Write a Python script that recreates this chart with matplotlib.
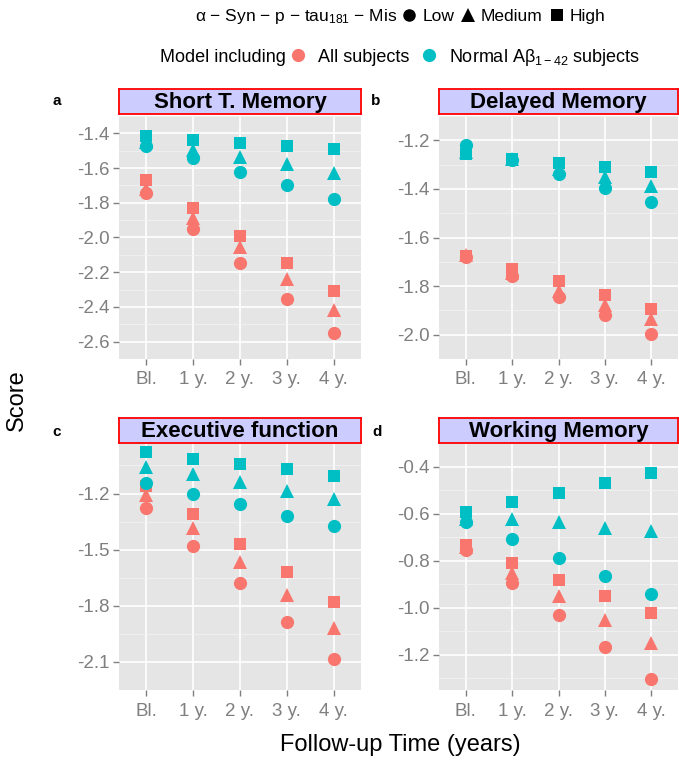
import matplotlib
matplotlib.use("Agg")
import matplotlib.pyplot as plt
from matplotlib.lines import Line2D

plt.rcParams['font.family'] = ['Liberation Sans', 'DejaVu Sans']
plt.rcParams['mathtext.fontset'] = 'custom'
plt.rcParams['mathtext.rm'] = 'Liberation Sans'
plt.rcParams['mathtext.it'] = 'Liberation Sans:italic'

times = ["Bl.", "1 y.", "2 y.", "3 y.", "4 y."]
levels = ["Low", "Medium", "High"]

# rows: Low, Medium, High
stm_all = [[-1.745, -1.95, -2.145, -2.353, -2.55],
           [-1.72, -1.885, -2.057, -2.237, -2.42],
           [-1.67, -1.83, -1.99, -2.145, -2.308]]
stm_norm = [[-1.47, -1.54, -1.62, -1.70, -1.78],
            [-1.45, -1.495, -1.535, -1.575, -1.63],
            [-1.415, -1.44, -1.455, -1.475, -1.49]]
dm_all = [[-1.68, -1.76, -1.843, -1.917, -1.998],
          [-1.672, -1.745, -1.82, -1.877, -1.937],
          [-1.676, -1.728, -1.78, -1.837, -1.895]]
dm_norm = [[-1.22, -1.28, -1.338, -1.395, -1.452],
           [-1.25, -1.278, -1.32, -1.35, -1.39],
           [-1.255, -1.275, -1.292, -1.31, -1.33]]
ef_all = [[-1.277, -1.478, -1.68, -1.887, -2.084],
          [-1.208, -1.385, -1.565, -1.743, -1.92],
          [-1.159, -1.311, -1.47, -1.622, -1.781]]
ef_norm = [[-1.143, -1.2, -1.257, -1.318, -1.372],
           [-1.058, -1.093, -1.139, -1.184, -1.229],
           [-0.979, -1.015, -1.041, -1.071, -1.105]]
wm_all = [[-0.754, -0.895, -1.032, -1.169, -1.304],
          [-0.741, -0.852, -0.952, -1.054, -1.152],
          [-0.732, -0.81, -0.882, -0.952, -1.022]]
wm_norm = [[-0.637, -0.709, -0.787, -0.865, -0.943],
           [-0.624, -0.624, -0.637, -0.661, -0.676],
           [-0.592, -0.552, -0.511, -0.468, -0.426]]

panels = [
    ("a", "Short T. Memory", stm_all, stm_norm, (-2.62, -1.385),
     [-2.6, -2.4, -2.2, -2.0, -1.8, -1.6, -1.4], ["-2.6", "-2.4", "-2.2", "-2.0", "-1.8", "-1.6", "-1.4"]),
    ("b", "Delayed Memory", dm_all, dm_norm, (-2.03, -1.19),
     [-2.0, -1.8, -1.6, -1.4, -1.2], ["-2.0", "-1.8", "-1.6", "-1.4", "-1.2"]),
    ("c", "Executive function", ef_all, ef_norm, (-2.14, -0.93),
     [-2.1, -1.8, -1.5, -1.2], ["-2.1", "-1.8", "-1.5", "-1.2"]),
    ("d", "Working Memory", wm_all, wm_norm, (-1.35, -0.383),
     [-1.2, -1.0, -0.8, -0.6, -0.4], ["-1.2", "-1.0", "-0.8", "-0.6", "-0.4"]),
]

RED = "#F8766D"
CYAN = "#00BFC4"
markers = {"Low": ("o", 9.5), "Medium": ("^", 10), "High": ("s", 8.5)}

W, H = 679, 762
fig = plt.figure(figsize=(W / 100, H / 100), dpi=100)


def rect(x0, y0, x1, y1):
    return [x0 / W, 1 - y1 / H, (x1 - x0) / W, (y1 - y0) / H]


boxes = [(119, 116, 361, 359), (439, 116, 678, 359),
         (119, 443, 361, 690), (439, 443, 678, 690)]
strips = [(119, 89, 361, 114), (439, 89, 678, 114),
          (119, 418, 361, 443), (439, 418, 678, 443)]
letters = [(57, 101), (376, 101), (57, 432), (377, 432)]

for (letter, title, d_all, d_norm, ylim, yt, ytl), box, sb, lp in zip(panels, boxes, strips, letters):
    ax = fig.add_axes(rect(*box))
    ax.set_facecolor("#E5E5E5")
    for s in ax.spines.values():
        s.set_visible(False)
    x = list(range(len(times)))
    ax.set_xlim(-0.58, 4.58)
    ax.set_ylim(*ylim)
    ax.set_xticks(x)
    ax.set_xticklabels(times)
    ax.set_yticks(yt)
    ax.set_yticklabels(ytl)
    step = yt[1] - yt[0]
    minors = [v + step / 2 for v in yt[:-1]] + [yt[0] - step / 2, yt[-1] + step / 2]
    ax.set_yticks(minors, minor=True)
    ax.tick_params(axis="y", which="minor", length=0)
    ax.tick_params(which="major", length=4, color="#7F7F7F", width=1,
                   labelsize=13.5, labelcolor="#7F7F7F")
    ax.tick_params(axis="x", pad=5)
    ax.tick_params(axis="y", pad=3)
    ax.grid(True, which="major", color="white", linewidth=1.2)
    ax.grid(True, which="minor", axis="y", color="#F2F2F2", linewidth=0.6)
    ax.set_axisbelow(True)
    for vals, col in ((d_all, RED), (d_norm, CYAN)):
        for lev, row in zip(levels, vals):
            m, ms = markers[lev]
            ax.plot(x, row, linestyle="none", marker=m, markersize=ms,
                    color=col, markeredgewidth=0)

    sax = fig.add_axes(rect(*sb))
    sax.set_facecolor("#CCCCFF")
    sax.set_xticks([])
    sax.set_yticks([])
    for s in sax.spines.values():
        s.set_color("#FF0000")
        s.set_linewidth(1.3)
    sax.text(0.5, 0.45, title, ha="center", va="center", fontsize=16,
             fontweight="bold", transform=sax.transAxes)

    fig.text(lp[0] / W, 1 - lp[1] / H, letter, fontsize=11, fontweight="bold",
             ha="center", va="center")

fig.text(400 / W, 1 - 745 / H, "Follow-up Time (years)", fontsize=17,
         ha="center", va="center")
fig.text(17 / W, 1 - 400 / H, "Score", fontsize=17, rotation=90,
         ha="center", va="center")

renderer = fig.canvas.get_renderer()

# legend 1: shapes
t1 = fig.text(195 / W, 1 - 16 / H, "α − Syn − p − tau$_{181}$ − Mis",
              fontsize=12.5, ha="left", va="center")
x_end = t1.get_window_extent(renderer).x1
h1 = [Line2D([], [], linestyle="none", marker=markers[l][0], markersize=markers[l][1] * 0.95,
             color="black", markeredgewidth=0) for l in levels]
fig.legend(h1, levels, loc="center left", bbox_to_anchor=((x_end + 4) / W, 1 - 16 / H),
           ncol=3, frameon=False, fontsize=12.5, handlelength=0.9, handletextpad=0.3,
           columnspacing=0.35, borderpad=0, borderaxespad=0)

# legend 2: colours
t2 = fig.text(160 / W, 1 - 57 / H, "Model including", fontsize=13, ha="left", va="center")
x_end2 = t2.get_window_extent(renderer).x1
h2 = [Line2D([], [], linestyle="none", marker="o", markersize=9.5, color=c,
             markeredgewidth=0) for c in (RED, CYAN)]
fig.legend(h2, ["All subjects", "Normal Aβ$_{1-42}$ subjects"],
           loc="center left", bbox_to_anchor=((x_end2 + 3) / W, 1 - 57 / H),
           ncol=2, frameon=False, fontsize=13, handlelength=1.0, handletextpad=0.6,
           columnspacing=0.6, borderpad=0, borderaxespad=0)

fig.savefig("out.png", dpi=100)
